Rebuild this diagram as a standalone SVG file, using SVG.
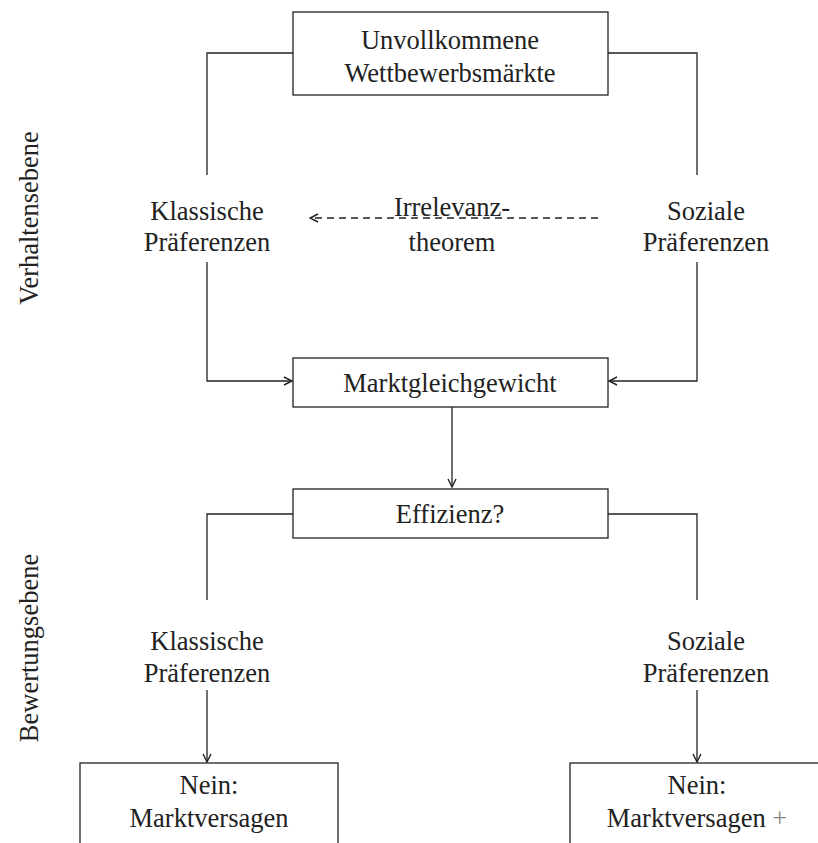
<svg xmlns="http://www.w3.org/2000/svg" width="818" height="843" viewBox="0 0 818 843" font-family="'Liberation Serif', 'DejaVu Serif', 'Times New Roman', serif">
<style>
text{font-family:'Liberation Serif','DejaVu Serif','Times New Roman',serif;font-size:26.5px;fill:#222;text-anchor:middle}
.box{fill:#fff;stroke:#222;stroke-width:1.3}
.ln{fill:none;stroke:#222;stroke-width:1.3}
.dash{stroke-dasharray:7 5}
</style>
<defs>
<marker id="arr" viewBox="0 0 10 10" refX="9" refY="5" markerWidth="10" markerHeight="10" markerUnits="userSpaceOnUse" orient="auto">
<path d="M1,1 L9,5 L1,9" fill="none" stroke="#222" stroke-width="1.4"/>
</marker>
</defs>
<g id="connectors">
<path class="ln" d="M293,53 H207 V175"/>
<path class="ln" d="M608,53 H697 V175"/>
<path class="ln dash" d="M598,218 H310" marker-end="url(#arr)"/>
<path class="ln" d="M207,262 V381 H292" marker-end="url(#arr)"/>
<path class="ln" d="M697,262 V381 H609" marker-end="url(#arr)"/>
<path class="ln" d="M452,407 V487" marker-end="url(#arr)"/>
<path class="ln" d="M293,514 H207 V600"/>
<path class="ln" d="M608,514 H697 V600"/>
<path class="ln" d="M207,690 V762" marker-end="url(#arr)"/>
<path class="ln" d="M697,690 V762" marker-end="url(#arr)"/>
</g>
<g id="unvollkommene">
<rect class="box" x="293" y="12" width="315" height="83"/>
<text x="450" y="49">Unvollkommene</text>
<text x="450" y="82">Wettbewerbsmärkte</text>
</g>
<g id="klassisch1">
<text x="207" y="220">Klassische</text>
<text x="207" y="251">Präferenzen</text>
</g>
<g id="irrelevanz">
<text x="452" y="216">Irrelevanz-</text>
<text x="452" y="251">theorem</text>
</g>
<g id="sozial1">
<text x="706" y="220">Soziale</text>
<text x="706" y="251">Präferenzen</text>
</g>
<g id="marktgleichgewicht">
<rect class="box" x="293" y="358" width="315" height="49"/>
<text x="450" y="392">Marktgleichgewicht</text>
</g>
<g id="effizienz">
<rect class="box" x="293" y="489" width="315" height="49"/>
<text x="450" y="523">Effizienz?</text>
</g>
<g id="klassisch2">
<text x="207" y="650">Klassische</text>
<text x="207" y="682">Präferenzen</text>
</g>
<g id="sozial2">
<text x="706" y="650">Soziale</text>
<text x="706" y="682">Präferenzen</text>
</g>
<g id="nein1">
<rect class="box" x="80" y="763" width="258" height="100"/>
<text x="209" y="794">Nein:</text>
<text x="209" y="827">Marktversagen</text>
</g>
<g id="nein2">
<rect class="box" x="570" y="763" width="258" height="100"/>
<text x="697" y="794">Nein:</text>
<text x="697" y="827">Marktversagen <tspan fill="#888">+</tspan></text>
</g>
<g id="labels">
<text transform="translate(38,218) rotate(-90)">Verhaltensebene</text>
<text transform="translate(38,648) rotate(-90)">Bewertungsebene</text>
</g>
</svg>
